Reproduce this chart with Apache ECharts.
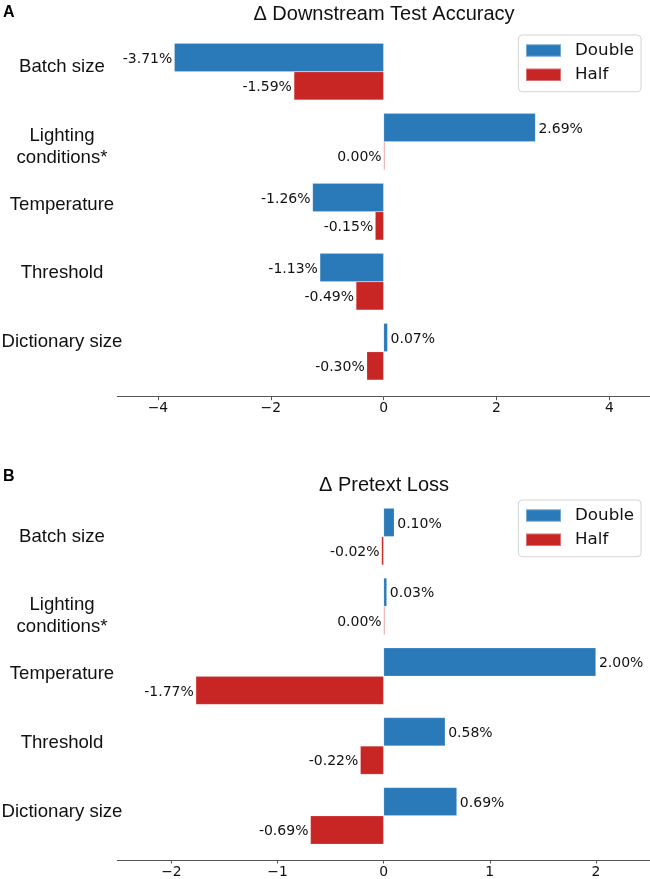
<!DOCTYPE html>
<html>
<head>
<meta charset="utf-8">
<script src="https://cdn.jsdelivr.net/npm/echarts@6/dist/echarts.min.js"></script>
<style>
html,body{margin:0;padding:0;background:#fff;}
#chart{width:650px;height:879px;}
</style>
</head>
<body>
<div id="chart"></div>
<script>
// ---- data ----
const categories = ['Batch size', 'Lighting\nconditions*', 'Temperature', 'Threshold', 'Dictionary size'];
const seriesNames = ['Double', 'Half'];
const accDouble = [-3.71, 2.69, -1.26, -1.13, 0.07];
const accHalf = [-1.59, 0.00, -0.15, -0.49, -0.30];
const lossDouble = [0.10, 0.03, 2.00, 0.58, 0.69];
const lossHalf = [-0.02, 0.00, -1.77, -0.22, -0.69];
const accTicks = [-4, -2, 0, 2, 4];
const lossTicks = [-2, -1, 0, 1, 2];
const titleA = '\u0394 Downstream Test Accuracy';
const titleB = '\u0394 Pretext Loss';

// ---- styling ----
const BLUE = '#2a7ab9';
const RED = '#c82525';
const AXIS = '#555555';
const SANS = '"Liberation Sans", Arial, sans-serif';
const DJV = '"DejaVu Sans", sans-serif';

const chart = echarts.init(document.getElementById('chart'), null, {renderer: 'canvas'});

function barData(vals) {
  return vals.map(v => ({
    value: v,
    label: {position: v > 0 ? 'right' : 'left', distance: v > 0 ? 3 : 2}
  }));
}

function barSeries(name, vals, color, axisIdx) {
  return {
    type: 'bar', name: name,
    xAxisIndex: axisIdx, yAxisIndex: axisIdx,
    data: barData(vals),
    barWidth: 28.4, barGap: '0%',
    barMinHeight: 1,
    itemStyle: {color: color, borderColor: 'rgba(255,255,255,0.35)', borderWidth: 0.5},
    label: {
      show: true, color: '#111', fontFamily: DJV, fontSize: 14,
      offset: [0, 1.5],
      formatter: p => p.value.toFixed(2) + '%'
    },
    silent: true, animation: false
  };
}

function valueAxis(grid, min, max, ticks, offset) {
  return {
    gridIndex: grid, type: 'value', min: min, max: max, position: 'bottom', offset: offset,
    axisLine: {show: true, lineStyle: {color: AXIS, width: 1}},
    axisTick: {show: true, length: 3.5, lineStyle: {color: AXIS}, customValues: ticks},
    axisLabel: {
      show: true, margin: 5, color: '#111', fontFamily: DJV, fontSize: 13.9,
      customValues: ticks,
      formatter: v => String(v).replace('-', '\u2212')
    },
    splitLine: {show: false}
  };
}

function legendAt(top) {
  return {
    orient: 'vertical', left: 518.3, top: top,
    data: seriesNames, icon: 'rect',
    itemWidth: 35, itemHeight: 12.4, itemGap: 6.2,
    padding: [6.5, 7, 8, 6.7],
    borderColor: '#d4d4d4', borderWidth: 1, borderRadius: 4,
    backgroundColor: '#fff',
    selectedMode: false,
    textStyle: {fontFamily: DJV, fontSize: 16.7, color: '#111', lineHeight: 18, padding: [0, 0, 0, 9]}
  };
}

// multi-line tick labels: first line sits on the tick (matplotlib center_baseline)
const labelAxisStyle = {
  axisLine: {show: false}, axisTick: {show: false}, splitLine: {show: false},
  axisLabel: {show: true, align: 'center', margin: 65.3, color: '#111',
    fontFamily: SANS, fontSize: 18.6, lineHeight: 21.5,
    formatter: v => v.indexOf('\n') >= 0 ? '\n' + v : v}
};

const option = {
  backgroundColor: '#fff',
  animation: false,
  grid: [
    {left: 117.3, top: 36.7, width: 533, height: 350},
    {left: 117.3, top: 32.9, width: 10, height: 343.25},
    {left: 117.3, top: 501.7, width: 533, height: 350},
    {left: 117.3, top: 502.1, width: 10, height: 343.75}
  ],
  xAxis: [
    valueAxis(0, -4.72, 4.72, accTicks, 10),
    {gridIndex: 1, type: 'value', show: false},
    valueAxis(2, -2.51, 2.51, lossTicks, 9.3),
    {gridIndex: 3, type: 'value', show: false}
  ],
  yAxis: [
    {gridIndex: 0, type: 'category', data: categories, inverse: true, show: false},
    Object.assign({gridIndex: 1, type: 'category', data: categories, inverse: true}, labelAxisStyle),
    {gridIndex: 2, type: 'category', data: categories, inverse: true, show: false},
    Object.assign({gridIndex: 3, type: 'category', data: categories, inverse: true}, labelAxisStyle)
  ],
  legend: [legendAt(35), legendAt(500)],
  series: [
    barSeries(seriesNames[0], accDouble, BLUE, 0),
    barSeries(seriesNames[1], accHalf, RED, 0),
    barSeries(seriesNames[0], lossDouble, BLUE, 2),
    barSeries(seriesNames[1], lossHalf, RED, 2)
  ],
  graphic: [
    {type: 'text', left: 3, top: 5, style: {text: 'A', font: 'bold 16px ' + SANS, fill: '#000'}},
    {type: 'text', left: 3, top: 469, style: {text: 'B', font: 'bold 16px ' + SANS, fill: '#000'}},
    {type: 'text', x: 384, y: 14, style: {text: titleA, font: '20px ' + SANS, fill: '#111', align: 'center', verticalAlign: 'middle'}},
    {type: 'text', x: 384, y: 485, style: {text: titleB, font: '20px ' + SANS, fill: '#111', align: 'center', verticalAlign: 'middle'}}
  ]
};
chart.setOption(option);
</script>
</body>
</html>
